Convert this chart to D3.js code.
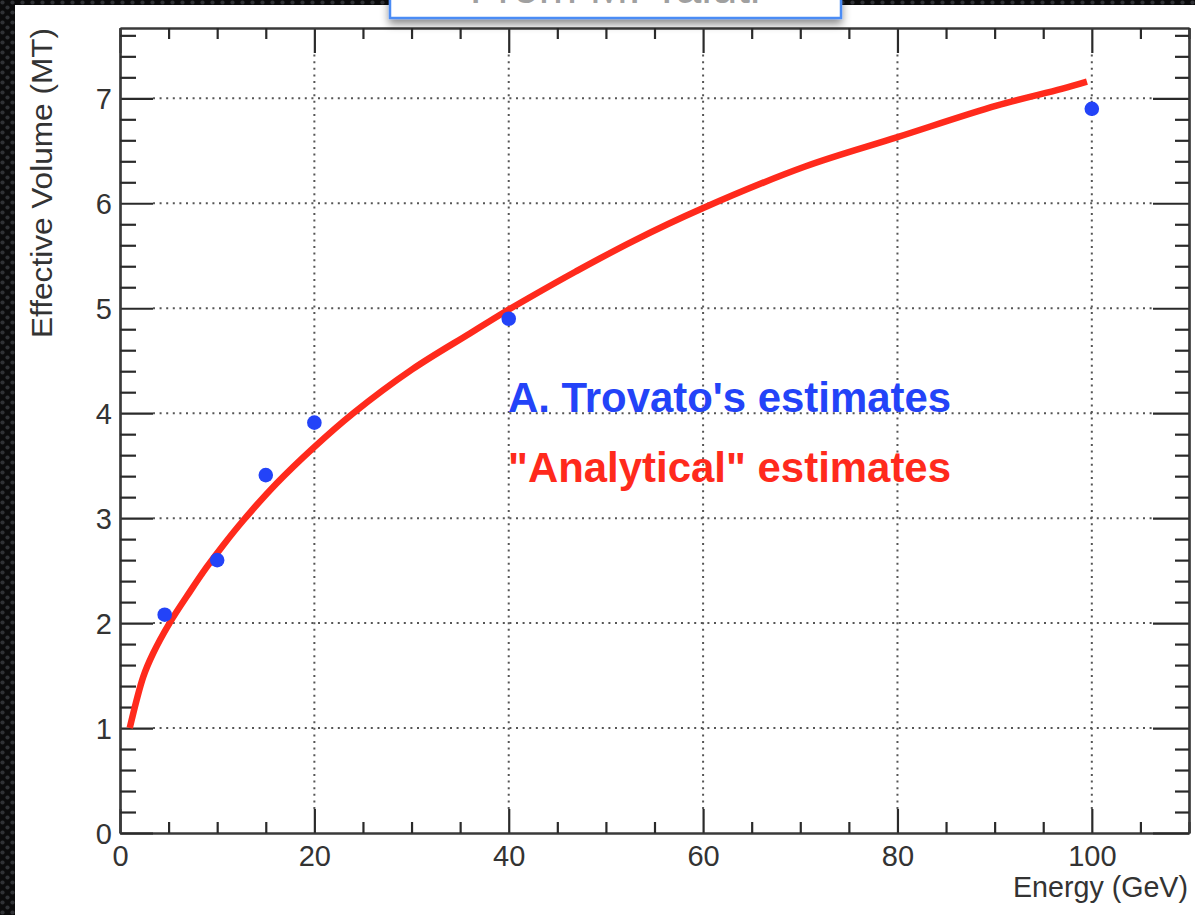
<!DOCTYPE html>
<html>
<head>
<meta charset="utf-8">
<script src="https://cdn.jsdelivr.net/npm/d3@7"></script>
<style>
  html, body { margin: 0; padding: 0; background: #0d0d0e; }
  svg { display: block; }
  text { font-family: "Liberation Sans", Arial, Helvetica, sans-serif; }
</style>
</head>
<body>
<div id="chart"></div>
<script>
// blue points: A. Trovato's estimates
const trovatoEnergy = [4.6, 10, 15, 20, 40, 100]
const trovatoVolume = [2.08, 2.6, 3.41, 3.91, 4.9, 6.9]

// red curve: "Analytical" estimates
const analyticEnergy = [1, 2.4, 3.4, 5.1, 7.2, 8.9, 10.6, 12.7, 16.1, 19.9, 24, 30.1, 36, 39.5, 42.1, 46.9, 52.8, 59.9, 70.5, 80, 90.2, 96.9, 99.5]
const analyticVolume = [1, 1.49, 1.71, 2.0, 2.3, 2.53, 2.74, 2.98, 3.33, 3.67, 4.0, 4.42, 4.76, 4.96, 5.1, 5.35, 5.64, 5.95, 6.35, 6.63, 6.93, 7.09, 7.16]

const xMajorTicks = [0, 20, 40, 60, 80, 100]
const yMajorTicks = [0, 1, 2, 3, 4, 5, 6, 7]
const legendLabels = ["A. Trovato's estimates", "\"Analytical\" estimates"]

function drawChart() {
  const width = 1195
  const height = 915
  let dims = {
    left: 120,
    right: 1189,
    top: 28,
    bottom: 833,
  }

  const svg = d3.select("#chart")
    .append("svg")
    .attr("width", width)
    .attr("height", height)

  // dark dotted slide background
  const defs = svg.append("defs")
  const pat = defs.append("pattern")
    .attr("id", "slideBg")
    .attr("width", 10)
    .attr("height", 10)
    .attr("patternUnits", "userSpaceOnUse")
  pat.append("rect").attr("width", 10).attr("height", 10).attr("fill", "#0b0b0c")
  pat.append("circle").attr("cx", 2.5).attr("cy", 2.5).attr("r", 2.1).attr("fill", "#303236")
  pat.append("circle").attr("cx", 7.5).attr("cy", 7.5).attr("r", 2.1).attr("fill", "#303236")

  const shadow = defs.append("filter").attr("id", "boxShadow")
    .attr("x", "-10%").attr("y", "-50%").attr("width", "120%").attr("height", "250%")
  shadow.append("feDropShadow")
    .attr("dx", 0).attr("dy", 5).attr("stdDeviation", 4)
    .attr("flood-color", "#000").attr("flood-opacity", 0.45)

  svg.append("rect")
    .attr("width", width).attr("height", height)
    .attr("fill", "url(#slideBg)")

  svg.append("rect")
    .attr("x", 15).attr("y", 5)
    .attr("width", width - 15).attr("height", height - 5)
    .attr("fill", "#ffffff")

  //scales
  const xScale = d3.scaleLinear()
    .domain([0, 110])
    .range([dims.left, dims.right])
  const yScale = d3.scaleLinear()
    .domain([0, 7.67])
    .range([dims.bottom, dims.top])

  const xMinor = d3.range(0, 111, 5).filter(v => v % 20 !== 0)
  const yMinor = d3.range(0, 7.61, 0.2).map(v => +v.toFixed(1)).filter(v => Math.abs(v - Math.round(v)) > 0.01)

  //grid
  const grid = svg.append("g")
    .attr("stroke", "#555")
    .attr("stroke-width", 2)
    .attr("stroke-dasharray", "2,4.6")
  xMajorTicks.filter(d => d > 0).forEach(d => {
    grid.append("line")
      .attr("x1", xScale(d)).attr("x2", xScale(d))
      .attr("y1", dims.bottom - 24).attr("y2", dims.top + 25)
  })
  yMajorTicks.filter(d => d > 0).forEach(d => {
    grid.append("line")
      .attr("x1", dims.left + 33).attr("x2", dims.right - 36)
      .attr("y1", yScale(d)).attr("y2", yScale(d))
  })

  //axes
  function styleAxis(g) {
    g.selectAll("path.domain").attr("stroke", "#3a3a3a").attr("stroke-width", 2.2)
    g.selectAll(".tick line").attr("stroke", "#2a2a2a").attr("stroke-width", 2.2)
    g.selectAll(".tick text")
      .attr("fill", "#333")
      .style("font-size", "29px")
      .style("font-family", "'Liberation Sans', Arial, sans-serif")
  }

  const xAxis = svg.append("g")
    .attr("transform", `translate(0, ${dims.bottom})`)
    .call(d3.axisBottom(xScale).tickValues(xMajorTicks).tickSize(-24).tickSizeOuter(0).tickPadding(12).tickFormat(d3.format("d")))
    .call(styleAxis)
  xAxis.selectAll(".tick text").attr("y", 33).attr("dy", 0)
  svg.append("g")
    .attr("transform", `translate(0, ${dims.bottom})`)
    .call(d3.axisBottom(xScale).tickValues(xMinor).tickSize(-11).tickSizeOuter(0).tickFormat(""))
    .call(styleAxis)

  svg.append("g")
    .attr("transform", `translate(0, ${dims.top})`)
    .call(d3.axisTop(xScale).tickValues(xMajorTicks).tickSize(-25).tickSizeOuter(0).tickFormat(""))
    .call(styleAxis)
  svg.append("g")
    .attr("transform", `translate(0, ${dims.top})`)
    .call(d3.axisTop(xScale).tickValues(xMinor).tickSize(-11).tickSizeOuter(0).tickFormat(""))
    .call(styleAxis)

  const yAxis = svg.append("g")
    .attr("transform", `translate(${dims.left}, 0)`)
    .call(d3.axisLeft(yScale).tickValues(yMajorTicks).tickSize(-33).tickSizeOuter(0).tickPadding(8).tickFormat(d3.format("d")))
    .call(styleAxis)
  yAxis.selectAll(".tick text").attr("dy", "0.36em")
  svg.append("g")
    .attr("transform", `translate(${dims.left}, 0)`)
    .call(d3.axisLeft(yScale).tickValues(yMinor).tickSize(-16).tickSizeOuter(0).tickFormat(""))
    .call(styleAxis)

  svg.append("g")
    .attr("transform", `translate(${dims.right}, 0)`)
    .call(d3.axisRight(yScale).tickValues(yMajorTicks).tickSize(-36).tickSizeOuter(0).tickFormat(""))
    .call(styleAxis)
  svg.append("g")
    .attr("transform", `translate(${dims.right}, 0)`)
    .call(d3.axisRight(yScale).tickValues(yMinor).tickSize(-14).tickSizeOuter(0).tickFormat(""))
    .call(styleAxis)

  //axis titles
  svg.append("text")
    .attr("x", 1188)
    .attr("y", 897)
    .attr("text-anchor", "end")
    .attr("fill", "#333")
    .attr("textLength", 175)
    .attr("lengthAdjust", "spacingAndGlyphs")
    .style("font-size", "29px")
    .text("Energy (GeV)")

  svg.append("text")
    .attr("transform", "translate(52, 28) rotate(-90)")
    .attr("text-anchor", "end")
    .attr("fill", "#333")
    .attr("textLength", 310)
    .attr("lengthAdjust", "spacingAndGlyphs")
    .style("font-size", "30px")
    .text("Effective Volume (MT)")

  //analytical curve
  const lineGen = d3.line()
    .x(d => xScale(d[0]))
    .y(d => yScale(d[1]))
    .curve(d3.curveCatmullRom.alpha(0.5))
  svg.append("path")
    .attr("d", lineGen(d3.zip(analyticEnergy, analyticVolume)))
    .attr("fill", "none")
    .attr("stroke", "#ff2a1c")
    .attr("stroke-width", 6.5)
    .attr("stroke-linecap", "butt")

  //Trovato points
  d3.zip(trovatoEnergy, trovatoVolume).forEach(d => {
    svg.append("circle")
      .attr("cx", xScale(d[0]))
      .attr("cy", yScale(d[1]))
      .attr("r", 7.3)
      .attr("fill", "#2343f8")
  })

  //legend text
  const legendColors = ["#2343f8", "#ff2a1c"]
  const legendY = [412, 482]
  legendLabels.forEach((label, i) => {
    svg.append("text")
      .attr("x", 508)
      .attr("y", legendY[i])
      .attr("fill", legendColors[i])
      .attr("textLength", 443)
      .attr("lengthAdjust", "spacingAndGlyphs")
      .style("font-size", "42px")
      .style("font-weight", "bold")
      .text(label)
  })

  //title box peeking from the top of the slide
  const box = svg.append("g")
  box.append("rect")
    .attr("x", 390).attr("y", -12)
    .attr("width", 451).attr("height", 30)
    .attr("fill", "#fff")
    .attr("stroke", "#4b8cf5")
    .attr("stroke-width", 2.5)
    .attr("filter", "url(#boxShadow)")
  box.append("text")
    .attr("x", 615)
    .attr("y", 3)
    .attr("text-anchor", "middle")
    .attr("fill", "#a0a0a0")
    .style("font-size", "46px")
    .text("From M. Taiuti")
}
drawChart()
</script>
</body>
</html>
